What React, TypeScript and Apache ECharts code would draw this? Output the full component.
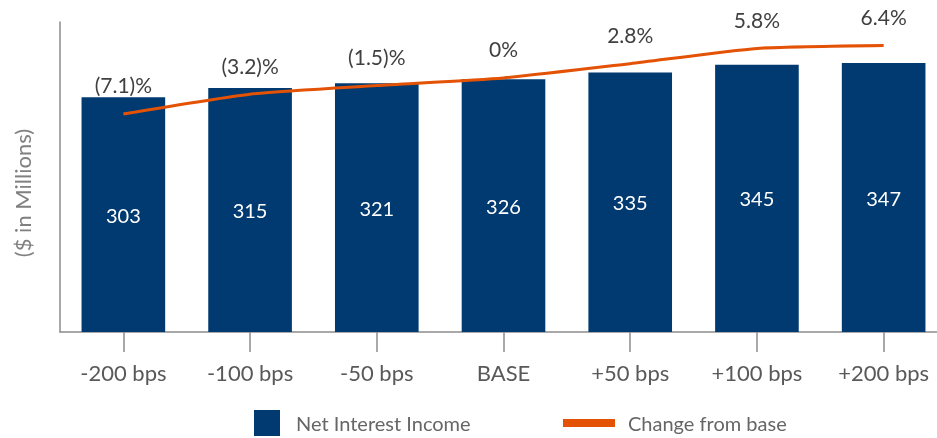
import React, { useEffect, useRef } from "react";
import * as echarts from "echarts";

const categories = ["-200 bps", "-100 bps", "-50 bps", "BASE", "+50 bps", "+100 bps", "+200 bps"];
const netInterestIncome = [303, 315, 321, 326, 335, 345, 347];
const changeFromBase = [-7.1, -3.2, -1.5, 0, 2.8, 5.8, 6.4];

const BAR_COLOR = "#003A70";
const LINE_COLOR = "#E35205";
const FONT = "Lato";

function pct(v: number): string {
  if (v === 0) return "0%";
  if (v < 0) return `(${Math.abs(v).toFixed(1)})%`;
  return `${v.toFixed(1)}%`;
}

export default function App() {
  const ref = useRef<HTMLDivElement>(null);
  useEffect(() => {
    if (!ref.current) return;
    const chart = echarts.init(ref.current, null, { renderer: "svg" });
    chart.setOption({
      animation: false,
      textStyle: { fontFamily: FONT },
      grid: { left: 60, top: 22, height: 310, right: 0 },
      xAxis: {
        type: "category",
        data: categories,
        axisLine: { show: true, lineStyle: { color: "#8c8c8c", width: 1.5 } },
        axisTick: { show: true, alignWithLabel: true, length: 20, lineStyle: { color: "#8c8c8c", width: 1.5 } },
        axisLabel: { fontSize: 22, color: "#595959", margin: 29, fontFamily: FONT },
      },
      yAxis: [
        {
          type: "value",
          min: 0,
          max: 400,
          axisLine: { show: true, lineStyle: { color: "#8c8c8c", width: 1.5 } },
          axisTick: { show: false },
          axisLabel: { show: false },
          splitLine: { show: false },
        },
        {
          type: "value",
          min: -50,
          max: 11,
          show: false,
          splitLine: { show: false },
        },
      ],
      legend: [
        {
          data: ["Net Interest Income"],
          left: 254,
          top: 410,
          padding: 0,
          itemWidth: 26,
          itemHeight: 26,
          selectedMode: false,
          icon: "rect",
          formatter: (n: string) => `{g|}{t|${n}}`,
          textStyle: {
            rich: {
              g: { width: 11 },
              t: { fontSize: 20, color: "#666666", fontFamily: FONT },
            },
          },
        },
        {
          data: ["Change from base"],
          left: 563,
          top: 413,
          padding: 0,
          itemWidth: 52,
          itemHeight: 8,
          selectedMode: false,
          icon: "rect",
          itemStyle: { color: LINE_COLOR },
          formatter: (n: string) => `{g|}{t|${n}}`,
          textStyle: {
            rich: {
              g: { width: 8 },
              t: { fontSize: 20, color: "#666666", fontFamily: FONT },
            },
          },
        },
      ],
      graphic: [
        {
          type: "text",
          x: 22,
          y: 193,
          rotation: Math.PI / 2,
          style: {
            text: "($ in Millions)",
            fontSize: 22,
            fontFamily: FONT,
            fill: "#808080",
            align: "center",
            verticalAlign: "middle",
          },
        },
      ],
      series: [
        {
          name: "Net Interest Income",
          type: "bar",
          data: netInterestIncome,
          barWidth: "66%",
          itemStyle: { color: BAR_COLOR },
          label: { show: true, position: "inside", color: "#ffffff", fontSize: 20, fontFamily: FONT },
        },
        {
          name: "Change from base",
          type: "line",
          yAxisIndex: 1,
          data: changeFromBase,
          smooth: 0.2,
          symbol: "circle",
          symbolSize: 1,
          itemStyle: { color: "rgba(0,0,0,0)" },
          lineStyle: { color: LINE_COLOR, width: 3 },
          label: {
            show: true,
            position: "top",
            distance: 18,
            fontSize: 21,
            color: "#404040",
            fontFamily: FONT,
            formatter: (p: any) => pct(p.value),
          },
        },
      ],
    });
    return () => chart.dispose();
  }, []);
  return (
    <div style={{ position: "fixed", left: 0, top: 0, width: 937, height: 438, overflow: "hidden" }}>
      <div ref={ref} style={{ width: 947, height: 438 }} />
    </div>
  );
}
